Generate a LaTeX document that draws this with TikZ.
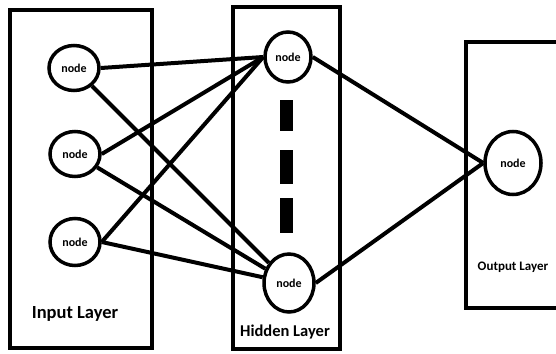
\documentclass[tikz,border=0pt]{standalone}
\usepackage{fontspec}
\setmainfont{Carlito}
\usetikzlibrary{shapes.geometric}
\begin{document}
\begin{tikzpicture}[x=1pt,y=-1pt,
  layerbox/.style={draw,line width=4.5pt},
  nn/.style={draw,line width=3.5pt,ellipse,inner sep=0pt,font=\bfseries\fontsize{12}{13}\selectfont},
  edge/.style={line width=4pt},
  dashbar/.style={fill=black}]
\useasboundingbox (0,0) rectangle (556,353);
% boxes
\draw[layerbox] (10,10) rectangle (152,348);
\draw[layerbox] (233,7) rectangle (340,349);
\draw[layerbox] (466,42) rectangle (570,308);
% nodes
\node[nn,minimum width=50pt,minimum height=45pt] (i1) at (74,68) {node};
\node[nn,minimum width=50pt,minimum height=45pt] (i2) at (75,154) {node};
\node[nn,minimum width=50pt,minimum height=47pt] (i3) at (75,242) {node};
\node[nn,minimum width=46pt,minimum height=50pt] (h1) at (288,57) {node};
\node[nn,minimum width=50pt,minimum height=58pt] (h2) at (289,283) {node};
\node[nn,minimum width=56pt,minimum height=63pt] (o1) at (513,163) {node};
% labels
\node[font=\bfseries\fontsize{18.5}{19}\selectfont] (lin) at (75,314) {Input Layer};
\node[font=\bfseries\fontsize{16.5}{17}\selectfont] (lhid) at (285,332) {Hidden Layer};
\node[font=\bfseries\fontsize{13}{14}\selectfont] (lout) at (513,267) {Output Layer};
% dashes
\fill[dashbar] (280,100) rectangle (293,131);
\fill[dashbar] (280,150) rectangle (293,184);
\fill[dashbar] (280,198) rectangle (293,233);
% edges
\draw[edge] (i1.east) -- (h1.west);
\draw[edge] (i2.east) -- (h1.west);
\draw[edge] (i3.east) -- (h1.west);
\draw[edge] (i1) -- (h2);
\draw[edge] (i2) -- (h2);
\draw[edge] (i3.east) -- (h2);
\draw[edge] (h1.east) -- (o1.west);
\draw[edge] (h2.east) -- (o1.west);
\end{tikzpicture}
\end{document}
